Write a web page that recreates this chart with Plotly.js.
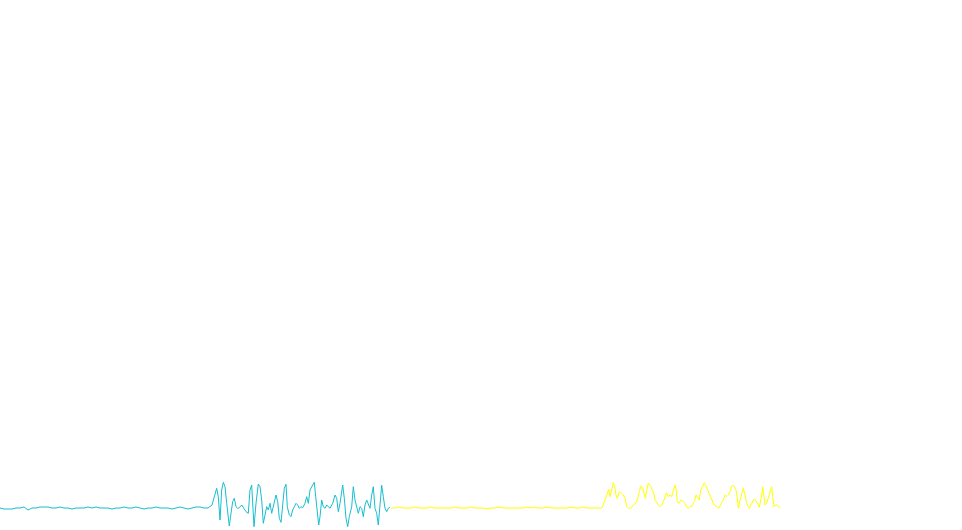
<!DOCTYPE html>
<html>
<head>
<meta charset="utf-8">
<script src="https://cdn.plot.ly/plotly-3.0.1.min.js"></script>
<style>html,body{margin:0;padding:0;background:#fff;}#chart{width:962px;height:530px;}</style>
</head>
<body>
<div id="chart"></div>
<script>
// Sample positions and amplitudes
const cyanQuietX = [0,4,8,12,16,20,24,28,32,36,40,44,48,52,56,60,64,68,72,76,80,84,88,92,96,100,104,108,112,116,120,124,128,132,136,140,144,148,152,156,160,164,168,172,176,180,184,188,192,196,200,204,208,212];
const cyanQuietY = [0,-1,-1,-1,0,0,1,-2,0,0,1,1,1,0,0,1,0,0,-1,0,0,0,1,0,1,0,0,0,-1,0,0,1,0,0,1,0,-1,0,0,1,0,0,0,-1,0,1,0,-1,0,1,1,0,0,3];

const cyanBurstX = [216.7,218.3,220,221.7,223.3,225,226.7,228.3,229.3,231,232.7,234.3,236,237.7,239.3,241.7,244,246,248.3,250,251.7,252.7,254,256,258.3,260,261.7,263.3,265,266.7,268.3,270,271.7,273.3,276,277.7,279.3,281,282.7,284.3,286,287.3,289.3,291,292.7,294.3,296,297.7,299.3,301,302.7,305,306.7,308.3,310,312.7,314.3,315.7,317.3,318.7,320,321.7,323.3,325,326.7,328.3,330,332.7,335,336.7,338.3,340,341.7,342.7,344.3,346,347.7,349.3,351.7,353.3,355,356.7,358.3,360,361.7,363.3,365,366.7,368.3,370,371.7,373.3,375,376.7,378.3,380,381.7,383.3,385,386.7,388.3,390];
const cyanBurstY = [19.7,11.3,-12,18,25.7,21.3,4.7,-8.7,-18,-5.3,6.3,9.7,1.3,-0.3,0.3,3,-0.3,-3.7,-5.3,18,23,-2,-18.7,4.7,24,21.3,8,-15.3,-5.3,1.3,-2,4.7,-5.3,1.3,13,6.3,-10.3,-14.3,4.7,19.7,23.7,1.3,-7,-8.7,-2,1.3,4.7,3,-0.3,1.3,0.3,4.7,11.3,4.7,18,23,25.7,11.3,-8.7,-17,-8.7,8,1.3,-0.3,3,1.3,-0.3,4.7,13,9.7,-3.7,4.7,18,23,9.7,-10.3,-18.7,-8.7,1.3,21.3,8,1.3,-5.3,1.3,-0.3,-8.7,3,8,4.7,-0.3,13,21.3,-0.3,-5.3,-17,1.3,22.7,11.3,-0.3,-3.7,-0.3,0.7];

const yellowQuietX = [391,395,399,403,407,411,415,419,423,427,431,435,439,443,447,451,455,459,463,467,471,475,479,483,487,491,495,499,503,507,511,515,519,523,527,531,535,539,543,547,551,555,559,563,567,571,575,579,583,587,591,595,599,601.7];
const yellowQuietY = [0,0,1,0,0,0,1,0,0,0,1,0,0,0,0,0,1,0,0,0,1,0,0,0,-1,0,0,1,0,0,0,0,0,0,1,0,1,0,0,1,0,0,0,0,0,1,0,0,1,0,0,0,0,0];

const yellowBurstX = [603.3,605,607.3,608.7,610,611.7,613.3,614.7,616,617.3,619.3,621.7,623.3,625,626.7,628.3,630,631.7,633.3,635.7,637.3,639.3,641,642.7,644,645.3,646.7,648.3,650,651.7,653.3,655,656.7,658.3,660,661.7,663.3,665,666.7,668.3,670,671.7,673.3,675,676,677.3,679,680.7,682.7,685,686.7,688.3,690,691.7,693.3,695,696,697.3,699.3,700.7,702.7,704.3,706,707.7,709.3,711,712.7,714,715.7,717.3,718.7,720,721.7,723.3,725,726.7,728.3,730,731.7,732.7,734.3,736,737.3,738.3,740,741.7,743.3,745,746.7,748.3,749.3,751.7,753.3,755,756.7,758.3,759.3,760.7,761.7,762.7,764,765,766.7,768.3,770,771.7,772.7,774,775.7,777.3,779,780];
const yellowBurstY = [3,8,16.3,18.7,11.3,18,25.3,21.3,13,9.7,16.3,14.7,13,9.7,1.3,-0.3,-0.3,0.7,3,4.7,8,16.3,22.3,20.7,14.7,9.7,18,24.7,23,19.7,16.3,8,4.7,3,1.3,3,6.3,11.3,15.3,11.3,13,11.3,16.3,23,19.7,6.3,4.7,8,7.3,4.7,0.7,-0.3,1.3,1.3,4.7,8,13,11.3,8,18,22,25.3,22,18,13,9.7,6.3,3,2,1.3,-0.3,2,4.7,8,13,11.3,13,16.3,21.3,23,21.3,18,9.7,-0.3,8,14.7,19.7,13,4.7,1.3,-0.3,4.7,8,8.7,6.3,3,0.7,6.3,13,21.3,6.3,3,4.7,9.7,16.3,21.3,11.3,1.3,3,3,0.7,-0.3];

const cyanColor = '#17becf';
const yellowColor = '#ffff00';

const cyanX = cyanQuietX.concat(cyanBurstX);
const cyanY = cyanQuietY.concat(cyanBurstY);
const yellowX = yellowQuietX.concat(yellowBurstX);
const yellowY = yellowQuietY.concat(yellowBurstY);

const traces = [
  {x: cyanX, y: cyanY, type: 'scatter', mode: 'lines', line: {color: cyanColor, width: 1}, hoverinfo: 'skip'},
  {x: yellowX, y: yellowY, type: 'scatter', mode: 'lines', line: {color: yellowColor, width: 1}, hoverinfo: 'skip'}
];

const layout = {
  width: 962, height: 530,
  margin: {l: 0, r: 0, t: 0, b: 0, pad: 0},
  paper_bgcolor: '#ffffff', plot_bgcolor: '#ffffff',
  showlegend: false,
  xaxis: {visible: false, range: [0, 962], fixedrange: true},
  yaxis: {visible: false, range: [-22, 508], fixedrange: true}
};

Plotly.newPlot('chart', traces, layout, {displayModeBar: false, staticPlot: true});
</script>
</body>
</html>
